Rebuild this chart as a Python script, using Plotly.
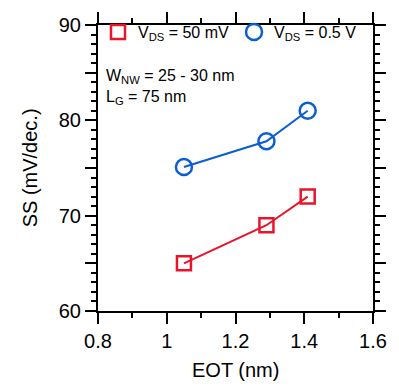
import plotly.graph_objects as go

eot = [1.05, 1.29, 1.41]
ss_50mv = [65.0, 69.0, 72.0]
ss_05v = [75.1, 77.8, 81.0]

y_label_alias = {65: "", 75: "", 85: ""}

RED = "#E8142C"
BLUE = "#0B5ED2"
FONT = "Liberation Sans, Arial, sans-serif"

fig = go.Figure()
fig.add_trace(go.Scatter(x=eot, y=ss_50mv, mode="lines", showlegend=False,
                         line=dict(color=RED, width=2)))
fig.add_trace(go.Scatter(x=eot, y=ss_05v, mode="lines", showlegend=False,
                         line=dict(color=BLUE, width=2)))
fig.add_trace(go.Scatter(x=eot, y=ss_50mv, mode="markers", name="V<sub>DS</sub> = 50 mV",
                         marker=dict(symbol="square-open", size=14, color=RED, line=dict(width=2.5))))
fig.add_trace(go.Scatter(x=eot, y=ss_05v, mode="markers", name="V<sub>DS</sub> = 0.5 V",
                         marker=dict(symbol="circle-open", size=16, color=BLUE, line=dict(width=2.5))))

fig.update_xaxes(range=[0.8, 1.6], dtick=0.2, showline=True, linecolor="black", linewidth=2,
                 mirror="ticks", ticks="outside", ticklen=11, tickwidth=2, tickcolor="black",
                 minor=dict(dtick=0.1, ticks="outside", ticklen=5, tickwidth=2, tickcolor="black"))
fig.update_yaxes(range=[60, 90], dtick=5, showline=True, linecolor="black", linewidth=2,
                 mirror="ticks", ticks="outside", ticklen=11, tickwidth=2, tickcolor="black",
                 labelalias=y_label_alias,
                 minor=dict(dtick=1, ticks="outside", ticklen=5, tickwidth=2, tickcolor="black"))

fig.add_annotation(xref="paper", yref="paper", x=0.5, y=-0.207, xanchor="center", yanchor="middle",
                   showarrow=False, text="EOT (nm)",
                   font=dict(family=FONT, size=20, color="black"))
fig.add_annotation(xref="paper", yref="paper", x=-0.246, y=0.5, xanchor="center", yanchor="middle",
                   showarrow=False, text="SS (mV/dec.)", textangle=-90,
                   font=dict(family=FONT, size=20, color="black"))
fig.add_annotation(xref="paper", yref="paper", x=0.02, y=0.86, xanchor="left", yanchor="top",
                   showarrow=False, align="left",
                   text="W<sub>NW</sub> = 25 - 30 nm<br>L<sub>G</sub> = 75 nm",
                   font=dict(family=FONT, size=16, color="black"))

fig.update_layout(width=399, height=391, margin=dict(l=98, r=25, t=17, b=80),
                  plot_bgcolor="white", paper_bgcolor="white",
                  font=dict(family=FONT, size=20, color="black"),
                  legend=dict(orientation="h", x=0.0, y=1.035, xanchor="left", yanchor="top",
                              font=dict(family=FONT, size=16, color="black"),
                              bgcolor="rgba(0,0,0,0)"))

fig.write_html("out.html")
